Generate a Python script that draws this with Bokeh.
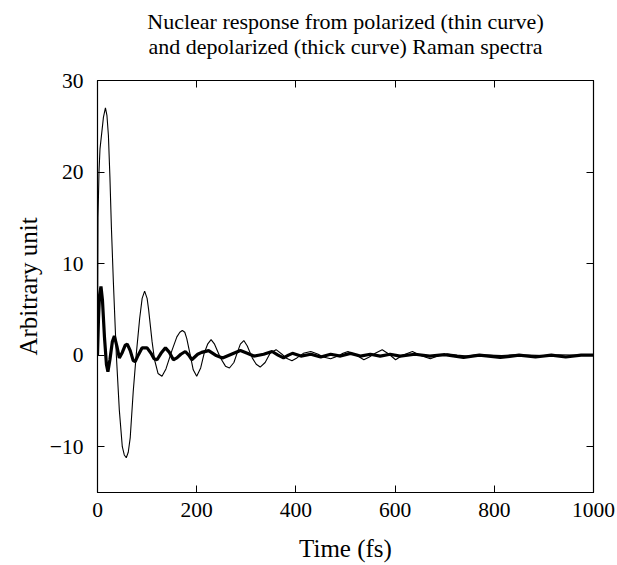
from bokeh.plotting import figure
from bokeh.models import LinearAxis, FixedTicker, Range1d
from bokeh.embed import file_html
from bokeh.resources import INLINE

# Polarized (thin curve): time (fs), value
thin_t = [0, 1, 3, 5, 8, 12, 16, 19, 22, 25, 28, 32, 38, 44, 50, 54, 58, 62, 66, 72, 78, 85, 90,
          95, 100, 103, 110, 115, 122,
          130, 138, 150, 160, 166, 171, 176, 180, 187, 193, 200, 208, 215, 222, 229, 236, 248, 258,
          266, 275, 282, 288, 295, 302, 312, 320, 328, 338, 348, 360, 372, 380, 392, 402,
          415, 430, 445, 455, 470, 485, 495, 505, 518, 528, 537, 548, 560, 574, 588, 601,
          615, 635, 650, 671, 690, 705, 725, 745, 765, 790, 815, 840, 870, 900, 930, 960, 1000]
thin_y = [0, 15, 20, 22.5, 24, 26, 27, 26.2, 24, 19.5, 14, 8, 0, -6, -10, -10.9, -11.2, -10.6, -9, -4, 0, 4, 6.2,
          7, 6.2, 5, 1.5, -0.5, -2,
          -2.3, -1.5, 0.5, 2, 2.5, 2.7, 2.5, 1.8, 0, -1.6, -2.3, -1.4, 0.2, 1.2, 1.7, 1.2, -0.3, -1.2,
          -1.4, -0.8, 0.3, 1.2, 1.6, 1.0, -0.3, -1.0, -1.3, -0.8, 0.2, 0.6, 0.1, -0.3, -0.6, -0.3,
          0.2, 0.4, 0.1, -0.2, -0.4, -0.1, 0.2, 0.4, 0.1, -0.2, -0.5, -0.2, 0.2, 0.6, 0.1, -0.5,
          0.0, 0.4, 0.0, -0.4, 0.0, 0.15, 0.0, -0.1, 0.05, 0.0, -0.05, 0.05, 0.0, -0.05, 0.05, 0.0, 0.0]

# Depolarized (thick curve): time (fs), value
thick_t = [0, 2, 4, 7, 10, 14, 18, 21, 25, 30, 34, 39, 44, 50, 56, 60, 66, 72, 76, 82,
           90, 100, 108, 114, 120, 128, 137, 145, 153, 160, 168, 177, 184, 190, 196, 202,
           210, 224, 238, 252, 270, 288, 302, 315, 335, 352, 364, 375, 385, 393, 410, 430,
           450, 470, 490, 510, 530, 550, 570, 590, 610, 640, 670, 700, 738, 770, 812, 850,
           883, 915, 944, 975, 1000]
thick_y = [0, 4, 6.5, 7.5, 6, 2, -1, -1.8, -0.5, 1.5, 2.1, 1, -0.3, 0.3, 1.1, 1.2, 0.5, -0.6, -0.7, 0,
           0.8, 0.8, 0.2, -0.4, -0.5, 0.2, 0.8, 0.3, -0.5, -0.3, 0.1, 0.4, 0, -0.5, -0.2, 0.1,
           0.3, 0.5, 0, -0.3, 0.1, 0.5, 0.2, -0.1, 0.1, 0.4, 0, -0.3, 0, 0.2, -0.1, 0.1,
           -0.2, 0.1, -0.1, 0.2, -0.1, 0.1, -0.1, 0.1, -0.1, 0.1, -0.1, 0.05, -0.25, 0, -0.25, 0,
           -0.2, 0, -0.2, 0, 0]

x_ticks = [0, 200, 400, 600, 800, 1000]
y_ticks = [-10, 0, 10, 20, 30]

title_lines = ["Nuclear response from polarized (thin curve)",
               "and depolarized (thick curve) Raman spectra"]

FONT = "Liberation Serif"

p = figure(width=616, height=564, output_backend="svg", toolbar_location=None,
           x_range=Range1d(0, 1000), y_range=Range1d(-15, 30),
           min_border_left=97, min_border_right=23, min_border_top=80, min_border_bottom=72)

xax = p.below[0]
yax = p.left[0]

for ax in (xax, yax):
    ax.major_tick_in = 7
    ax.major_tick_out = 0
    ax.minor_tick_in = 0
    ax.minor_tick_out = 0
    ax.axis_line_color = "black"
    ax.major_tick_line_color = "black"
    ax.major_label_text_font = FONT
    ax.major_label_text_font_size = "21.5px"
    ax.major_label_text_color = "black"
    ax.axis_label_text_font = FONT
    ax.axis_label_text_font_size = "25px"
    ax.axis_label_text_font_style = "normal"
    ax.axis_label_text_color = "black"

xax.ticker = FixedTicker(ticks=x_ticks)
yax.ticker = FixedTicker(ticks=y_ticks)
xax.axis_label = "Time (fs)"
yax.axis_label = "Arbitrary unit"
xax.major_label_standoff = 10
yax.major_label_standoff = 14
xax.axis_label_standoff = 15
yax.axis_label_standoff = 5

# mirrored tick marks on the top and right edges; the two-line title sits on the top edge
top = LinearAxis(ticker=FixedTicker(ticks=[], minor_ticks=x_ticks),
                 major_tick_in=0, major_tick_out=0, minor_tick_in=7, minor_tick_out=0,
                 axis_line_color="black", minor_tick_line_color="black",
                 axis_label="\n".join(title_lines), axis_label_text_font=FONT,
                 axis_label_text_font_size="22px", axis_label_text_font_style="normal",
                 axis_label_text_color="black", axis_label_text_line_height=1.0,
                 axis_label_standoff=22)
right = LinearAxis(ticker=FixedTicker(ticks=[], minor_ticks=y_ticks),
                   major_tick_in=0, major_tick_out=0, minor_tick_in=7, minor_tick_out=0,
                   axis_line_color="black", minor_tick_line_color="black")
p.add_layout(top, "above")
p.add_layout(right, "right")

p.grid.visible = False
p.outline_line_color = "black"
p.outline_line_width = 1.2

p.line(thin_t, thin_y, line_color="black", line_width=1.1)
p.line(thick_t, thick_y, line_color="black", line_width=3.2)

open("out.html", "w").write(file_html(p, INLINE))
